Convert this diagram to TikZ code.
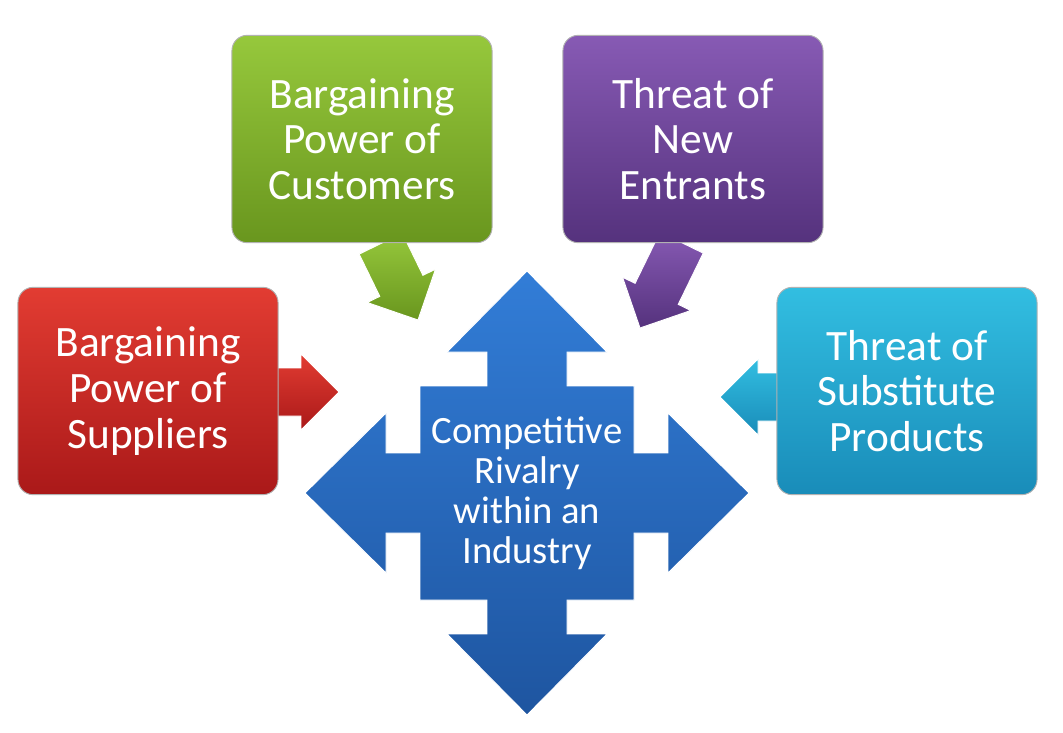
\documentclass[tikz,border=0pt]{standalone}
\usepackage{fontspec}
\setmainfont{Carlito}
\usetikzlibrary{positioning,calc}

\definecolor{redA}{RGB}{226,60,50}
\definecolor{redB}{RGB}{170,25,25}
\definecolor{grnA}{RGB}{150,200,60}
\definecolor{grnB}{RGB}{105,150,30}
\definecolor{purA}{RGB}{135,90,180}
\definecolor{purB}{RGB}{85,50,125}
\definecolor{cyaA}{RGB}{50,190,225}
\definecolor{cyaB}{RGB}{25,140,185}
\definecolor{bluA}{RGB}{50,125,215}
\definecolor{bluB}{RGB}{30,85,160}

\tikzset{
  force/.style={rounded corners=13pt, minimum width=222pt, minimum height=177pt,
    align=center, text=white, font=\fontsize{37}{39}\selectfont,
    draw=white!70!black, line width=0.8pt},
  fat/.style={draw=white, line width=0.8pt}
}

\begin{document}
\begin{tikzpicture}[x=0.03cm, y=-0.03cm]
    \useasboundingbox (0,0) rectangle (1063,733);

    % central cross
    \def\s{107}
    \def\n{40}
    \def\h{80}
    \def\b{141}
    \def\t{222}
    \begin{scope}[shift={(527,493)}]
    \draw[fat, top color=bluA, bottom color=bluB]
      (0,-\t) -- (\h,-\b) -- (\n,-\b) -- (\n,-\s) -- (\s,-\s) -- (\s,-\n)
      -- (\b,-\n) -- (\b,-\h) -- (\t,0) -- (\b,\h) -- (\b,\n) -- (\s,\n)
      -- (\s,\s) -- (\n,\s) -- (\n,\b) -- (\h,\b) -- (0,\t) -- (-\h,\b)
      -- (-\n,\b) -- (-\n,\s) -- (-\s,\s) -- (-\s,\n) -- (-\b,\n) -- (-\b,\h)
      -- (-\t,0) -- (-\b,-\h) -- (-\b,-\n) -- (-\s,-\n) -- (-\s,-\s)
      -- (-\n,-\s) -- (-\n,-\b) -- (-\h,-\b) -- cycle;
    \end{scope}
    \node[align=center, text=white, font=\fontsize{33}{34}\selectfont]
      (rivalry) at (527,493) {Competitive\\Rivalry\\within an\\Industry};

    % small arrows (tip at origin, pointing along +x)
    \foreach \px/\py/\ang/\len/\ca/\cb in {339/392/0/62/redA/redB,
                                         418/320/-64/85/grnA/grnB,
                                         640/328/-116/95/purA/purB,
                                         720/397/180/58/cyaA/cyaB}{
      \begin{scope}[shift={(\px,\py)}, rotate=\ang]
      \draw[fat, top color=\ca, bottom color=\cb]
        (0,0) -- (-38,-38) -- (-38,-24) -- (-\len,-24) -- (-\len,24)
        -- (-38,24) -- (-38,38) -- cycle;
      \end{scope}
    }

    % boxes
    \node[force, top color=redA, bottom color=redB] (suppliers) at (148,391)
      {Bargaining\\Power of\\Suppliers};
    \node[force, top color=grnA, bottom color=grnB] (customers) at (362,139)
      {Bargaining\\Power of\\Customers};
    \node[force, top color=purA, bottom color=purB] (entrants) at (693,139)
      {Threat of\\New\\Entrants};
    \node[force, top color=cyaA, bottom color=cyaB] (substitutes) at (907,391)
      {Threat of\\Substitute\\Products};
\end{tikzpicture}
\end{document}
